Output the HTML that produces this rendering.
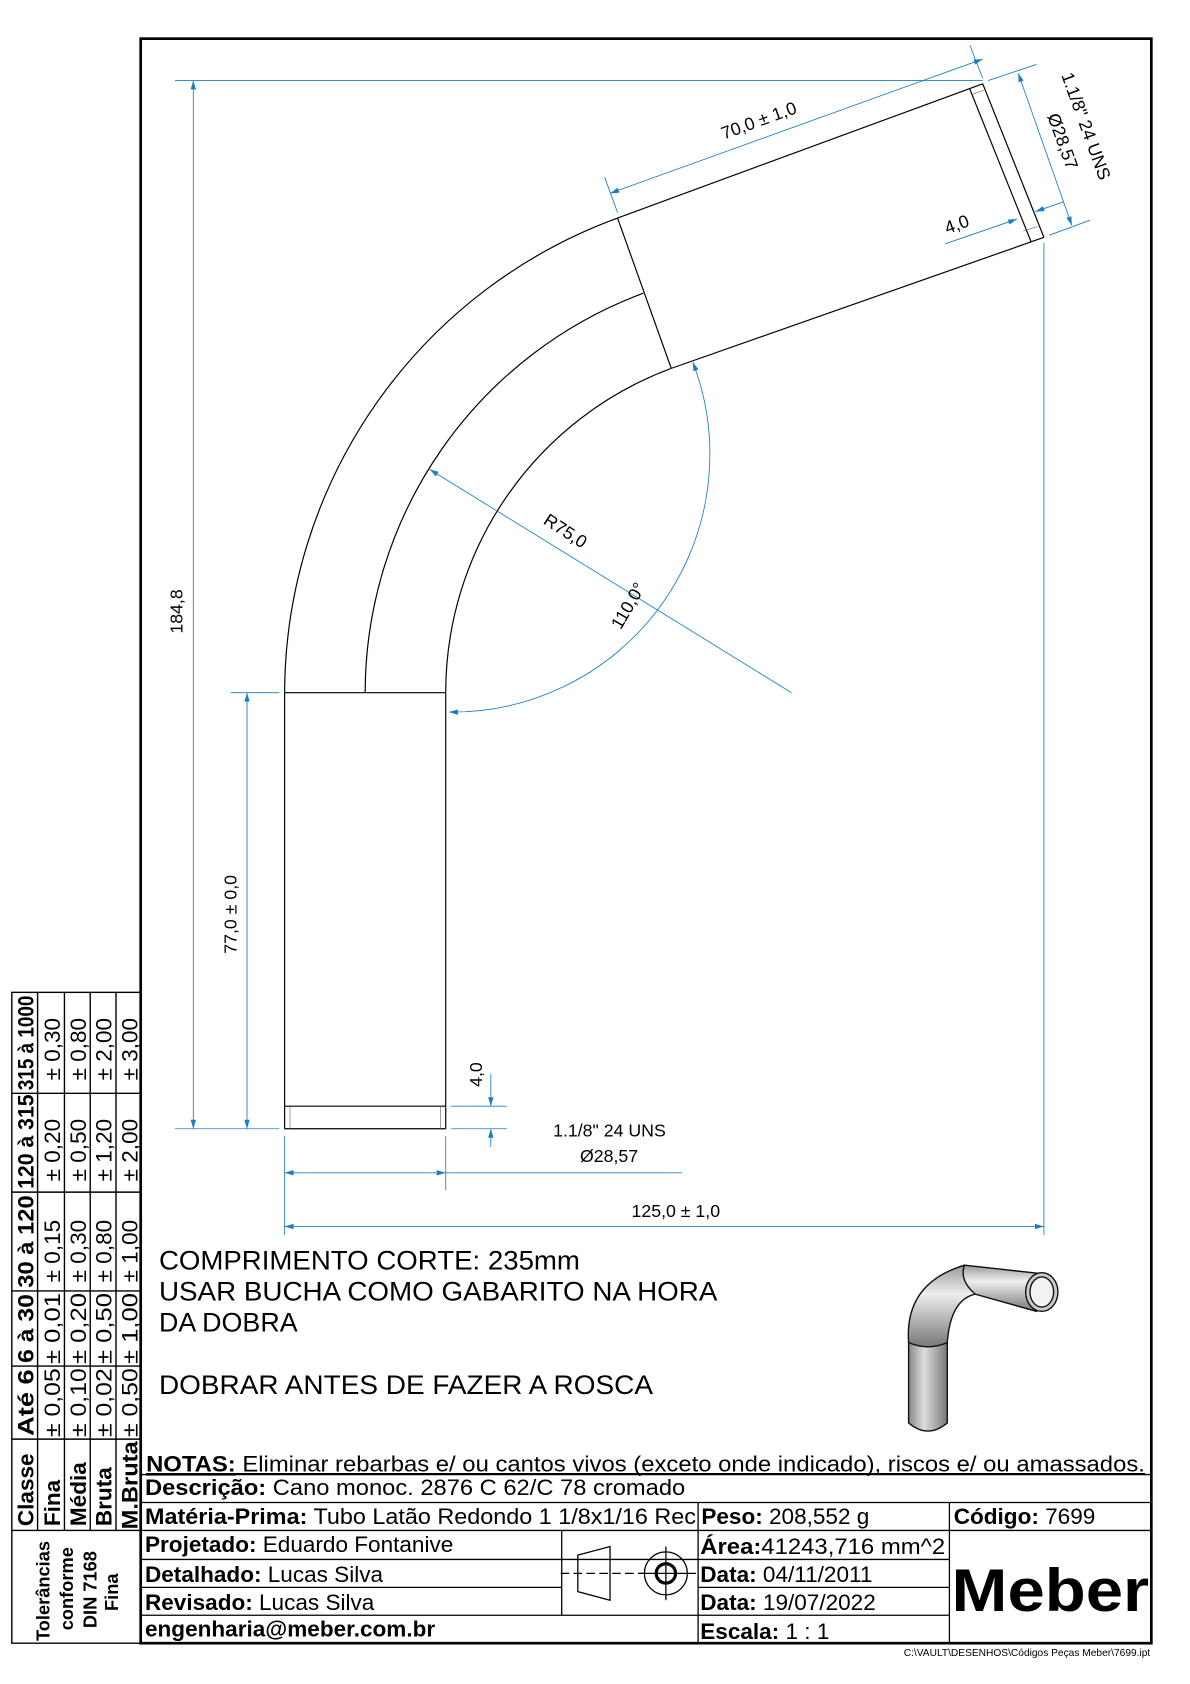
<!DOCTYPE html>
<html><head><meta charset="utf-8"><style>
html,body{margin:0;padding:0;background:#fff;}
svg{display:block;}
text{font-family:"Liberation Sans",sans-serif;}
</style></head><body>
<svg width="1190" height="1684" viewBox="0 0 1108 1568" preserveAspectRatio="none" xmlns="http://www.w3.org/2000/svg">
<defs>
<marker id="a" viewBox="0 0 10 6" refX="10" refY="3" markerWidth="9" markerHeight="5" orient="auto-start-reverse" markerUnits="userSpaceOnUse"><path d="M0,0L10,3L0,6z" fill="#1a7fc0"/></marker>
<linearGradient id="g1" x1="0" x2="1"><stop offset="0" stop-color="#888"/><stop offset=".4" stop-color="#ddd"/><stop offset="1" stop-color="#777"/></linearGradient>
<linearGradient id="g2" x1="0" y1="0" x2="0" y2="1"><stop offset="0" stop-color="#999"/><stop offset=".35" stop-color="#eee"/><stop offset="1" stop-color="#777"/></linearGradient>
</defs>
<rect x="131" y="36" width="941" height="1494" fill="none" stroke="#000" stroke-width="2.5"/>

<g fill="none" stroke="#000" stroke-width="1.1">
<line x1="265" y1="645" x2="265" y2="1051"/>
<line x1="415" y1="645" x2="415" y2="1051"/>
<line x1="265" y1="645" x2="415" y2="645"/>
<line x1="265" y1="1051" x2="415" y2="1051"/>
<line x1="265" y1="1030" x2="415" y2="1030"/>
<line x1="270" y1="1030" x2="270" y2="1051" stroke="#666" stroke-width=".6"/>
<line x1="410" y1="1030" x2="410" y2="1051" stroke="#666" stroke-width=".6"/>
<path d="M265,645 A472,472 0 0 1 575,203"/>
<path d="M340,645 A397,397 0 0 1 599,273"/>
<path d="M415,645 A322,322 0 0 1 625,343"/>
<line x1="575" y1="203" x2="625" y2="343"/>
<line x1="575" y1="203" x2="915" y2="78"/>
<line x1="625" y1="343" x2="972" y2="221"/>
<line x1="915" y1="78" x2="972" y2="221"/>
<line x1="903" y1="83" x2="960" y2="225"/>
<line x1="905" y1="88" x2="916" y2="84" stroke="#666" stroke-width=".6"/>
<line x1="953" y1="215" x2="966" y2="211" stroke="#666" stroke-width=".6"/>
</g>

<g fill="none" stroke="#1a7fc0" stroke-width=".8">
<line x1="163" y1="75" x2="915" y2="75"/>
<line x1="163" y1="1051" x2="260" y2="1051"/>
<line x1="180" y1="75" x2="180" y2="1051" marker-start="url(#a)" marker-end="url(#a)"/>
<line x1="215" y1="645" x2="260" y2="645"/>
<line x1="230" y1="645" x2="230" y2="1051" marker-start="url(#a)" marker-end="url(#a)"/>
<line x1="265" y1="1058" x2="265" y2="1150"/>
<line x1="415" y1="1058" x2="415" y2="1108"/>
<line x1="972" y1="226" x2="972" y2="1150"/>
<line x1="265" y1="1142" x2="972" y2="1142" marker-start="url(#a)" marker-end="url(#a)"/>
<line x1="265" y1="1092" x2="415" y2="1092" marker-start="url(#a)" marker-end="url(#a)"/>
<line x1="415" y1="1092" x2="635" y2="1092"/>
<line x1="420" y1="1030" x2="472" y2="1030"/>
<line x1="420" y1="1051" x2="472" y2="1051"/>
<line x1="457" y1="1000" x2="457" y2="1030" marker-end="url(#a)"/>
<line x1="457" y1="1068" x2="457" y2="1051" marker-end="url(#a)"/>
<line x1="575" y1="198" x2="563" y2="165"/>
<line x1="915" y1="73" x2="903" y2="42"/>
<line x1="568" y1="180" x2="915" y2="55" marker-start="url(#a)" marker-end="url(#a)"/>
<line x1="920" y1="75" x2="965" y2="60"/>
<line x1="977" y1="219" x2="1015" y2="205"/>
<line x1="948" y1="68" x2="998" y2="210" marker-start="url(#a)" marker-end="url(#a)"/>
<line x1="880" y1="227" x2="947" y2="204" marker-end="url(#a)"/>
<line x1="990" y1="188" x2="964" y2="197" marker-end="url(#a)"/>
<line x1="737" y1="645" x2="400" y2="437" marker-end="url(#a)"/>
<path d="M418,663 A240,240 0 0 0 645,337" marker-start="url(#a)" marker-end="url(#a)"/>
</g>
<g font-size="16.5" fill="#000">
<text transform="translate(170,590) rotate(-90)">184,8</text>
<text transform="translate(220,888) rotate(-90)">77,0 ± 0,0</text>
<text transform="translate(449,1012) rotate(-90)">4,0</text>
<text x="515" y="1058">1.1/8" 24 UNS</text>
<text x="540" y="1082">Ø28,57</text>
<text x="588" y="1133">125,0 ± 1,0</text>
<text transform="translate(674,130) rotate(-20)">70,0 ± 1,0</text>
<text transform="translate(882,218) rotate(-20)">4,0</text>
<text transform="translate(988,70) rotate(70)">1.1/8" 24 UNS</text>
<text transform="translate(975,108) rotate(70)">Ø28,57</text>
<text transform="translate(505,487) rotate(33)">R75,0</text>
<text transform="translate(578,587) rotate(-60)">110,0°</text>
</g>

<g font-size="25" fill="#000">
<text x="148" y="1182" textLength="392" lengthAdjust="spacingAndGlyphs">COMPRIMENTO CORTE: 235mm</text>
<text x="148" y="1211" textLength="520" lengthAdjust="spacingAndGlyphs">USAR BUCHA COMO GABARITO NA HORA</text>
<text x="148" y="1240">DA DOBRA</text>
<text x="148" y="1298" textLength="460" lengthAdjust="spacingAndGlyphs">DOBRAR ANTES DE FAZER A ROSCA</text>
</g>

<g stroke="#111" stroke-width="1.3">
<path d="M846,1250 L846,1325 Q864,1340 882,1325 L882,1250 Z" fill="url(#g1)"/>
<path d="M846,1250 Q842,1195 898,1178 L908,1205 Q885,1210 882,1250 Q864,1258 846,1250 Z" fill="url(#g2)"/>
<path d="M898,1178 L970,1186 L965,1221 L908,1205 Q893,1192 898,1178 Z" fill="url(#g2)"/>
<ellipse cx="970" cy="1203" rx="15" ry="18" fill="#ccc"/>
<ellipse cx="970" cy="1203" rx="11" ry="14" fill="#f2f2f2"/>
</g>

<g fill="none" stroke="#000" stroke-width="1.3">
<rect x="11" y="924" width="120" height="501"/>
<line x1="35" y1="924" x2="35" y2="1425"/>
<line x1="60" y1="924" x2="60" y2="1425"/>
<line x1="84" y1="924" x2="84" y2="1425"/>
<line x1="108" y1="924" x2="108" y2="1425"/>
<line x1="11" y1="1018" x2="131" y2="1018"/>
<line x1="11" y1="1110" x2="131" y2="1110"/>
<line x1="11" y1="1202" x2="131" y2="1202"/>
<line x1="11" y1="1272" x2="131" y2="1272"/>
<line x1="11" y1="1340" x2="131" y2="1340"/>
<path d="M11,1425 L11,1530 L131,1530"/>
</g>
<g font-size="21" fill="#000">
<g font-weight="bold">
<text transform="translate(31,1015) rotate(-90)" textLength="88" lengthAdjust="spacingAndGlyphs">315 à 1000</text>
<text transform="translate(31,1107) rotate(-90)" textLength="88" lengthAdjust="spacingAndGlyphs">120 à 315</text>
<text transform="translate(31,1199) rotate(-90)" textLength="86" lengthAdjust="spacingAndGlyphs">30 à 120</text>
<text transform="translate(31,1269) rotate(-90)" textLength="64" lengthAdjust="spacingAndGlyphs">6 à 30</text>
<text transform="translate(31,1337) rotate(-90)" textLength="62" lengthAdjust="spacingAndGlyphs">Até 6</text>
<text transform="translate(31,1421) rotate(-90)">Classe</text>
<text transform="translate(56,1421) rotate(-90)">Fina</text>
<text transform="translate(80,1421) rotate(-90)">Média</text>
<text transform="translate(104,1421) rotate(-90)">Bruta</text>
<text transform="translate(128,1424) rotate(-90)" textLength="82" lengthAdjust="spacingAndGlyphs">M.Bruta</text>
</g>
<g>
<text transform="translate(56,1006) rotate(-90)">± 0,30</text>
<text transform="translate(80,1006) rotate(-90)">± 0,80</text>
<text transform="translate(104,1006) rotate(-90)">± 2,00</text>
<text transform="translate(128,1006) rotate(-90)">± 3,00</text>
<text transform="translate(56,1100) rotate(-90)">± 0,20</text>
<text transform="translate(80,1100) rotate(-90)">± 0,50</text>
<text transform="translate(104,1100) rotate(-90)">± 1,20</text>
<text transform="translate(128,1100) rotate(-90)">± 2,00</text>
<text transform="translate(56,1194) rotate(-90)">± 0,15</text>
<text transform="translate(80,1194) rotate(-90)">± 0,30</text>
<text transform="translate(104,1194) rotate(-90)">± 0,80</text>
<text transform="translate(128,1194) rotate(-90)">± 1,00</text>
<text transform="translate(56,1270) rotate(-90)" textLength="66" lengthAdjust="spacingAndGlyphs">± 0,01</text>
<text transform="translate(80,1270) rotate(-90)" textLength="66" lengthAdjust="spacingAndGlyphs">± 0,20</text>
<text transform="translate(104,1270) rotate(-90)" textLength="66" lengthAdjust="spacingAndGlyphs">± 0,50</text>
<text transform="translate(128,1270) rotate(-90)" textLength="66" lengthAdjust="spacingAndGlyphs">± 1,00</text>
<text transform="translate(56,1338) rotate(-90)" textLength="64" lengthAdjust="spacingAndGlyphs">± 0,05</text>
<text transform="translate(80,1338) rotate(-90)" textLength="64" lengthAdjust="spacingAndGlyphs">± 0,10</text>
<text transform="translate(104,1338) rotate(-90)" textLength="64" lengthAdjust="spacingAndGlyphs">± 0,02</text>
<text transform="translate(128,1338) rotate(-90)" textLength="64" lengthAdjust="spacingAndGlyphs">± 0,50</text>
</g>
<g font-weight="bold" font-size="17">
<text transform="translate(46,1528) rotate(-90)">Tolerâncias</text>
<text transform="translate(68,1518) rotate(-90)">conforme</text>
<text transform="translate(90,1516) rotate(-90)">DIN 7168</text>
<text transform="translate(110,1500) rotate(-90)">Fina</text>
</g>
</g>

<g fill="none" stroke="#000" stroke-width="1.2">
<line x1="131" y1="1373" x2="1072" y2="1373"/>
<line x1="131" y1="1399" x2="1072" y2="1399"/>
<line x1="131" y1="1425" x2="1072" y2="1425"/>
<line x1="131" y1="1452" x2="884" y2="1452"/>
<line x1="131" y1="1478" x2="523" y2="1478"/>
<line x1="650" y1="1478" x2="884" y2="1478"/>
<line x1="131" y1="1504" x2="884" y2="1504"/>
<line x1="523" y1="1425" x2="523" y2="1504"/>
<line x1="650" y1="1399" x2="650" y2="1530"/>
<line x1="884" y1="1399" x2="884" y2="1530"/>
<path d="M538,1448 L568,1440 L568,1490 L538,1482 Z"/>
<line x1="522" y1="1465" x2="600" y2="1465" stroke-dasharray="8,4"/>
<circle cx="620" cy="1465" r="20"/>
<circle cx="620" cy="1465" r="9" stroke-width="3"/>
<line x1="595" y1="1465" x2="648" y2="1465"/>
<line x1="620" y1="1440" x2="620" y2="1490"/>
</g>
<g font-size="21" fill="#000">
<text x="136" y="1370" textLength="930" lengthAdjust="spacingAndGlyphs"><tspan font-weight="bold" text-decoration="underline">NOTAS:</tspan> Eliminar rebarbas e/ ou cantos vivos (exceto onde indicado), riscos e/ ou amassados.</text>
<line x1="136" y1="1372" x2="1066" y2="1372" stroke="#000" stroke-width="1"/>
<text x="135" y="1392" textLength="503" lengthAdjust="spacingAndGlyphs"><tspan font-weight="bold">Descrição:</tspan> Cano monoc. 2876 C 62/C 78 cromado</text>
<text x="135" y="1419" textLength="513" lengthAdjust="spacingAndGlyphs"><tspan font-weight="bold">Matéria-Prima:</tspan> Tubo Latão Redondo  1 1/8x1/16 Rec</text>
<text x="653" y="1419"><tspan font-weight="bold">Peso:</tspan> 208,552 g</text>
<text x="888" y="1419"><tspan font-weight="bold">Código:</tspan> 7699</text>
<text x="135" y="1445"><tspan font-weight="bold">Projetado:</tspan> Eduardo Fontanive</text>
<text x="135" y="1473"><tspan font-weight="bold">Detalhado:</tspan> Lucas Silva</text>
<text x="135" y="1499"><tspan font-weight="bold">Revisado:</tspan> Lucas Silva</text>
<text x="135" y="1524" font-weight="bold">engenharia@meber.com.br</text>
<text x="652" y="1447" textLength="228" lengthAdjust="spacingAndGlyphs"><tspan font-weight="bold">Área:</tspan>41243,716 mm^2</text>
<text x="652" y="1473"><tspan font-weight="bold">Data:</tspan> 04/11/2011</text>
<text x="652" y="1499"><tspan font-weight="bold">Data:</tspan> 19/07/2022</text>
<text x="652" y="1526"><tspan font-weight="bold">Escala:</tspan> 1 : 1</text>
<text x="886" y="1500" font-size="56" font-weight="bold" textLength="184" lengthAdjust="spacingAndGlyphs">Meber</text>
</g>
<text x="1071" y="1542" font-size="9.5" text-anchor="end">C:\VAULT\DESENHOS\Códigos Peças Meber\7699.ipt</text>
</svg>
</body></html>
